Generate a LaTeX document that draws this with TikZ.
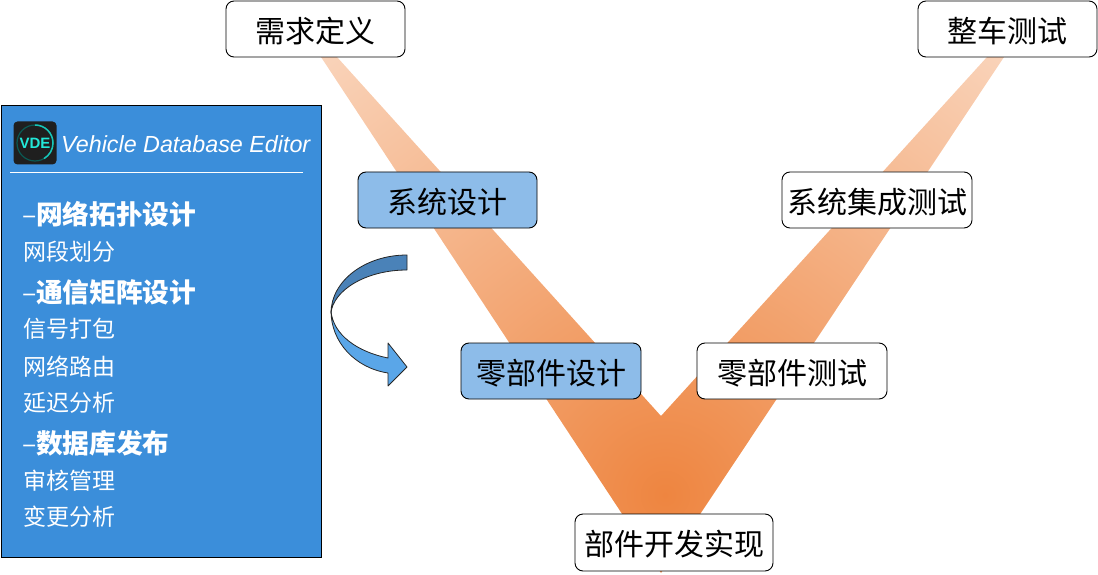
\documentclass[tikz,border=0pt]{standalone}
\usepackage{fontspec}
\setmainfont{Noto Sans CJK SC}
\newfontfamily\latinfont{Liberation Sans}
\usetikzlibrary{shadings}
\definecolor{vcore}{HTML}{EE8540}
\definecolor{vpale}{HTML}{FBDFCC}
\definecolor{panelblue}{HTML}{3B8EDA}
\definecolor{boxblue}{HTML}{8DBCE9}
\definecolor{arrowdark}{HTML}{4A82B8}
\definecolor{arrowlight}{HTML}{5AA6E8}
\definecolor{ringteal}{HTML}{17C5B8}
\definecolor{vdeteal}{HTML}{22E8D8}
\newcommand{\lowered}[1]{\raisebox{-2pt}[\height][\depth]{#1}}
\newcommand{\headdash}{\makebox[14pt][l]{\mdseries\textendash}}
\tikzset{
  x=1pt,y=-1pt,
  stagebox/.style={draw=black,line width=0.9pt,rounded corners=8pt,fill=white,inner sep=0pt,align=center,font=\fontsize{30}{33}\selectfont,text=black},
  bluebox/.style={stagebox,fill=boxblue},
  headitem/.style={anchor=west,inner sep=0pt,text=white,font=\fontsize{26.7}{30}\selectfont\bfseries},
  subitem/.style={anchor=west,inner sep=0pt,text=white,font=\fontsize{23}{26}\selectfont},
  arrowedge/.style={draw=black!85,line width=0.8pt,line join=round}
}
\begin{document}
\begin{tikzpicture}
\useasboundingbox (0,0) rectangle (1098,575);
% V band
\begin{scope}
\clip (321,57) -- (337,57) -- (661,416) -- (987,57) -- (1004,57) -- (661,573) -- cycle;
\shade[inner color=vcore,outer color=vpale] (665,495) circle (640);
\end{scope}
% stage boxes
\node[stagebox,minimum width=179pt,minimum height=56pt] (req) at (315.5,29) {\lowered{需求定义}};
\node[stagebox,minimum width=179pt,minimum height=56pt] (veh) at (1007.5,29) {\lowered{整车测试}};
\node[bluebox,minimum width=179pt,minimum height=56pt] (sys) at (447.5,200) {\lowered{系统设计}};
\node[stagebox,minimum width=190pt,minimum height=56pt] (sit) at (877,200) {\lowered{系统集成测试}};
\node[bluebox,minimum width=180pt,minimum height=56pt] (cmp) at (551,371) {\lowered{零部件设计}};
\node[stagebox,minimum width=190pt,minimum height=56pt] (cmt) at (792,371) {\lowered{零部件测试}};
\node[stagebox,minimum width=198pt,minimum height=57pt] (impl) at (674,542.5) {\lowered{部件开发实现}};
% panel
\node[draw=black,line width=0.9pt,fill=panelblue,minimum width=320pt,minimum height=452pt,inner sep=0pt] (panel) at (161,331) {};
\node[fill=black!88,rounded corners=4pt,minimum width=43pt,minimum height=43pt,inner sep=0pt] (icon) at (35,143) {};
\draw[ringteal!45!black,line width=1.2pt] (icon.center) circle (18);
\draw[ringteal,line width=1.5pt] (35,125) arc[start angle=-90,end angle=60,radius=18];
\node[inner sep=0pt,text=vdeteal,font=\latinfont\bfseries\fontsize{15}{16}\selectfont] (vde) at (icon.center) {VDE};
\node[anchor=west,inner sep=0pt,text=white,font=\latinfont\itshape\fontsize{23.3}{26}\selectfont] (title) at (61,144) {Vehicle Database Editor};
\draw[white,line width=0.8pt] (10,172) -- (303,172);
\node[headitem] (h1) at (22,214) {\headdash 网络拓扑设计};
\node[subitem] (s1) at (23,252) {网段划分};
\node[headitem] (h2) at (22,292) {\headdash 通信矩阵设计};
\node[subitem] (s2) at (23,329) {信号打包};
\node[subitem] (s3) at (23,367) {网络路由};
\node[subitem] (s4) at (23,403) {延迟分析};
\node[headitem] (h3) at (22,443) {\headdash 数据库发布};
\node[subitem] (s5) at (23,481) {审核管理};
\node[subitem] (s6) at (23,517) {变更分析};
% curved arrow
\draw[arrowedge,fill=arrowlight]
  (331,311) .. controls (331,342) and (355,368) .. (388,373)
  -- (388,386) -- (407,367) -- (388,343) -- (388,358)
  .. controls (358,352) and (333,335) .. (331,311) -- cycle;
\draw[arrowedge,fill=arrowdark]
  (407,255) .. controls (365,255) and (331,281) .. (331,313)
  .. controls (333,291) and (365,270) .. (407,270) -- cycle;
\end{tikzpicture}
\end{document}
